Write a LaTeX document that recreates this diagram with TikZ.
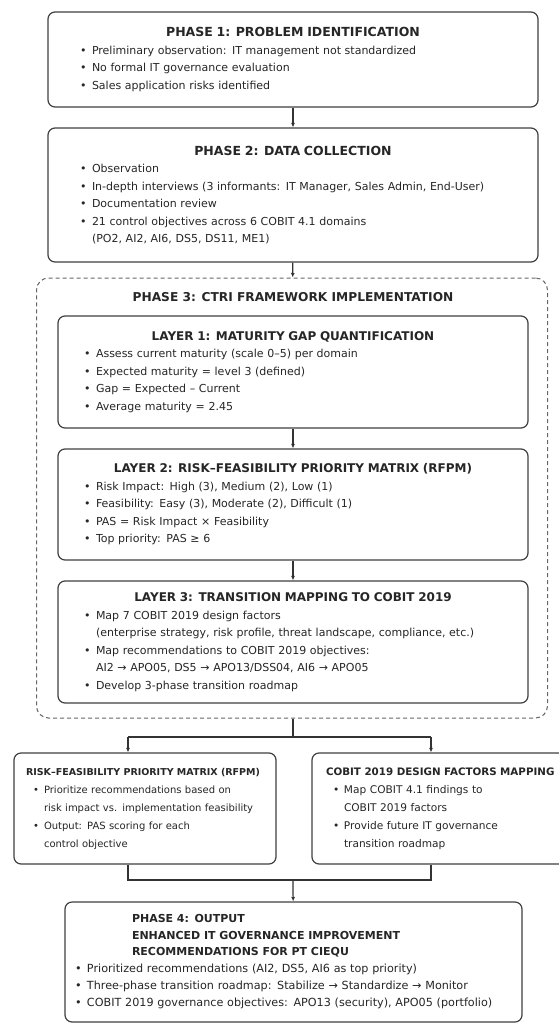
\documentclass[tikz,border=0pt]{standalone}
\usepackage{fontspec}
\setmainfont{DejaVu Sans}
\usetikzlibrary{arrows.meta}
\begin{document}
\begin{tikzpicture}[x=1pt,y=-1pt]
  \tikzstyle{box}=[draw=black!75,line width=1.2pt,rounded corners=7pt,fill=white,
    align=left,text=black!85,inner ysep=0pt,
    font=\fontsize{11}{17.5}\selectfont]
  \tikzstyle{phase}=[box,inner xsep=32pt,text width=426pt,minimum width=490pt]
  \tikzstyle{layer}=[box,inner xsep=26pt,text width=418pt,minimum width=470pt]
  \tikzstyle{side}=[box,inner xsep=12pt,text width=238pt,minimum width=262pt,
    minimum height=111pt,font=\fontsize{10}{18}\selectfont]
  \tikzstyle{frame}=[draw=black!60,line width=1pt,dash pattern=on 4pt off 3pt,rounded corners=12pt]
  \tikzstyle{lnk}=[draw=black!80,line width=1.2pt]
  \tikzstyle{arr}=[lnk,-{Latex[length=4.5pt,width=4pt]}]
  \def\hdr#1#2{{\centering\fontsize{#1}{18}\selectfont\bfseries #2\par}}
  \def\itm#1{\hangindent=12pt\hangafter=1\noindent\makebox[12pt][l]{\textbullet}#1\par}
  \def\sitm#1{\hangindent=18pt\hangafter=1\noindent\hspace*{7pt}\makebox[11pt][l]{\textbullet}#1\par}

  \useasboundingbox (0,0) rectangle (558,1025);

  % phase 1 and 2
  \node [phase,minimum height=95pt] (ph1) at (293,59.5)
    {\hdr{12.5}{PHASE 1: PROBLEM IDENTIFICATION}%
     \itm{Preliminary observation: IT management not standardized}%
     \itm{No formal IT governance evaluation}%
     \itm{Sales application risks identified}};
  \node [phase,minimum height=134pt] (ph2) at (293,195)
    {\hdr{12.5}{PHASE 2: DATA COLLECTION}%
     \itm{Observation}%
     \itm{In-depth interviews (3 informants: IT Manager, Sales Admin, End-User)}%
     \itm{Documentation review}%
     \itm{21 control objectives across 6 COBIT 4.1 domains\newline (PO2, AI2, AI6, DS5, DS11, ME1)}};

  % phase 3 with its three layers
  \node [frame,minimum width=511pt,minimum height=440pt] (ph3) at (292,498) {};
  \node [font=\fontsize{12.2}{18}\selectfont\bfseries,text=black!85] (ph3t) at (293,297)
    {PHASE 3: CTRI FRAMEWORK IMPLEMENTATION};
  \node [layer,minimum height=112pt] (lay1) at (293,372)
    {\hdr{12}{LAYER 1: MATURITY GAP QUANTIFICATION}%
     \itm{Assess current maturity (scale 0–5) per domain}%
     \itm{Expected maturity = level 3 (defined)}%
     \itm{Gap = Expected – Current}%
     \itm{Average maturity = 2.45}};
  \node [layer,minimum height=111pt] (lay2) at (293,504.5)
    {\hdr{12}{LAYER 2: RISK–FEASIBILITY PRIORITY MATRIX (RFPM)}%
     \itm{Risk Impact: High (3), Medium (2), Low (1)}%
     \itm{Feasibility: Easy (3), Moderate (2), Difficult (1)}%
     \itm{PAS = Risk Impact × Feasibility}%
     \itm{Top priority: PAS ≥ 6}};
  \node [layer,minimum height=122pt] (lay3) at (293,642)
    {\hdr{12}{LAYER 3: TRANSITION MAPPING TO COBIT 2019}%
     \itm{Map 7 COBIT 2019 design factors\newline (enterprise strategy, risk profile, threat landscape, compliance, etc.)}%
     \itm{Map recommendations to COBIT 2019 objectives:\newline AI2 → APO05, DS5 → APO13/DSS04, AI6 → APO05}%
     \itm{Develop 3-phase transition roadmap}};

  % two side outputs
  \node [side] (rfpm) at (145,808.5)
    {{\fontsize{9.5}{18}\selectfont\bfseries RISK–FEASIBILITY PRIORITY MATRIX (RFPM)\par}%
     \sitm{Prioritize recommendations based on\newline risk impact vs. implementation feasibility}%
     \sitm{Output: PAS scoring for each\newline control objective}};
  \node [side,inner xsep=14pt,text width=234pt,font=\fontsize{10.6}{18}\selectfont] (cobit) at (443,808.5)
    {{\fontsize{10.3}{18}\selectfont\bfseries COBIT 2019 DESIGN FACTORS MAPPING\par}%
     \sitm{Map COBIT 4.1 findings to\newline COBIT 2019 factors}%
     \sitm{Provide future IT governance\newline transition roadmap}};

  % phase 4
  \node [box,inner xsep=10pt,text width=437pt,minimum width=457pt,minimum height=120pt,
    font=\fontsize{11.2}{17}\selectfont] (ph4) at (293.5,962)
    {{\leftskip=57pt\fontsize{11}{16.5}\selectfont\bfseries PHASE 4: OUTPUT\newline
      ENHANCED IT GOVERNANCE IMPROVEMENT\newline RECOMMENDATIONS FOR PT CIEQU\par}%
     \itm{Prioritized recommendations (AI2, DS5, AI6 as top priority)}%
     \itm{Three-phase transition roadmap: Stabilize → Standardize → Monitor}%
     \itm{COBIT 2019 governance objectives: APO13 (security), APO05 (portfolio)}};

  \coordinate (sp) at (293,737);
  \coordinate (spL) at (128,737);
  \coordinate (spR) at (431,737);
  \coordinate (mg) at (293,880);
  \coordinate (mgL) at (128,880);
  \coordinate (mgR) at (431,880);

  \path [arr] (ph1) edge (ph2) ;
  \path [arr] (ph2) edge (ph3) ;
  \path [arr] (lay1) edge (lay2) ;
  \path [arr] (lay2) edge (lay3) ;
  \draw [lnk] (ph3.south -| sp) -- (sp) ;
  \draw [lnk] (spL) -- (spR) ;
  \draw [arr] (spL) -- (spL |- rfpm.north) ;
  \draw [arr] (spR) -- (spR |- cobit.north) ;
  \draw [lnk] (rfpm.south -| mgL) -- (mgL) -- (mgR) -- (cobit.south -| mgR) ;
  \draw [arr] (mg) -- (ph4) ;
\end{tikzpicture}
\end{document}
